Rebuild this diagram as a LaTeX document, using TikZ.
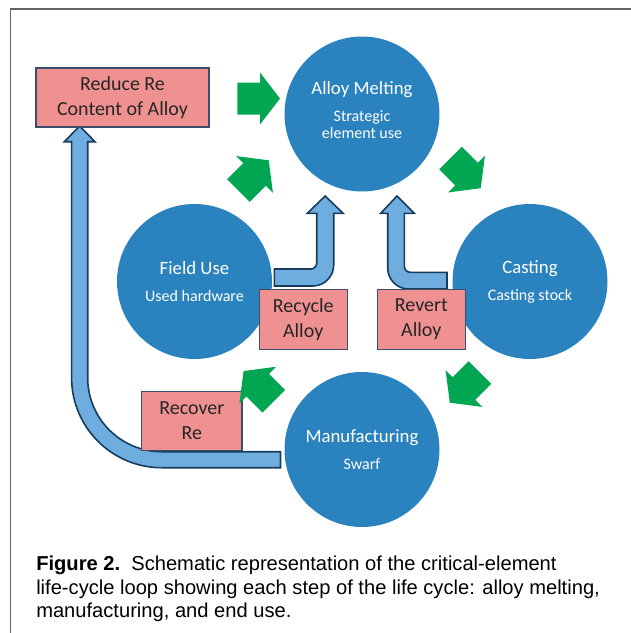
\documentclass[tikz,border=0pt]{standalone}
\usepackage{fontspec}
\setmainfont{Carlito}
\newfontfamily\captionfont{Liberation Sans}
\definecolor{stageblue}{RGB}{42,130,190}
\definecolor{actionpink}{RGB}{239,145,144}
\definecolor{actionedge}{RGB}{62,76,110}
\definecolor{flowblue}{RGB}{111,173,222}
\definecolor{flowedge}{RGB}{22,60,94}
\definecolor{cyclegreen}{RGB}{0,166,81}
\definecolor{framegray}{RGB}{100,100,100}
\newcommand{\subline}{\fontsize{12}{12.75}\selectfont}
\tikzset{cyclearrow/.pic={
  \fill [cyclegreen] (0,-16) -- (22.7,-16) -- (22.7,-26) -- (42.7,0) -- (22.7,26) -- (22.7,16) -- (0,16) -- cycle;
}}

\begin{document}
\begin{tikzpicture}[x=0.75pt,y=-0.75pt]
\tikzstyle{every node}+=[inner sep=0pt]
\tikzstyle{stage}=[circle, fill=stageblue, minimum size=116.25pt, text=white, align=center, font=\fontsize{14.1}{12.75}\selectfont]
\tikzstyle{action}=[rectangle, fill=actionpink, draw=actionedge, line width=0.8pt, align=center, text=black!85, font=\fontsize{15}{18.75}\selectfont]
\tikzstyle{flow}=[fill=flowblue, draw=flowedge, line width=1.2pt, line join=miter]
\useasboundingbox (0,0) rectangle (631,633);
% frame
\draw [framegray, line width=1.1pt] (10.5,633) -- (10.5,9) -- (631,9);
% stages
\node [stage] (melt) at (362,114) {Alloy Melting\\[7.5pt]\subline Strategic\\\subline element use\\[-7pt]};
\node [stage] (field) at (194.5,281.5) {Field Use\\[7.5pt]\subline Used hardware};
\node [stage] (cast) at (530,281.5) {Casting\\[7.5pt]\subline Casting stock};
\node [stage] (manuf) at (362,449.5) {Manufacturing\\[7.5pt]\subline Swarf};
% recovery flows
\draw [flow] (64.4,141.7) -- (79.6,126) -- (95,141.7) -- (87.7,141.7) -- (87.7,377.7)
  .. controls (87.7,418.6) and (120.8,451.7) .. (161.7,451.7) -- (280.5,451.7) -- (280.5,467.7)
  -- (161.7,467.7) .. controls (112,467.7) and (71.6,427.4) .. (71.6,377.7) -- (71.6,141.7) -- cycle;
\draw [flow] (274.3,269) -- (310.7,269) .. controls (314,269) and (316.7,266.3) .. (316.7,263)
  -- (316.7,213.3) -- (307.3,213.3) -- (325.2,196) -- (343.1,213.3) -- (333.7,213.3) -- (333.7,265)
  .. controls (333.7,276.6) and (324.3,286) .. (312.7,286) -- (274.3,286) -- cycle;
\draw [flow] (447,272.3) -- (410.3,272.3) .. controls (407,272.3) and (404.3,269.6) .. (404.3,266.3)
  -- (404.3,213.3) -- (414.3,213.3) -- (397,196) -- (380.7,213.3) -- (387.7,213.3) -- (387.7,268)
  .. controls (387.7,279.6) and (397.1,289) .. (408.7,289) -- (447,289) -- cycle;
% actions
\node [action, minimum width=129.75pt, minimum height=44.25pt] (reduce) at (122.5,97.5) {Reduce Re\\Content of Alloy};
\node [action, minimum width=65.8pt, minimum height=44.8pt] (recycle) at (303.2,319.2) {Recycle\\Alloy};
\node [action, minimum width=66pt, minimum height=44.8pt] (revert) at (421.3,319.2) {Revert\\Alloy};
\node [action, minimum width=75.3pt, minimum height=43.7pt] (recover) at (191.8,420.9) {Recover\\Re};
% cycle arrows
\pic at (237.3,98.5) {cyclearrow};
\pic [rotate=45] at (238.5,190.5) {cyclearrow};
\pic [rotate=-45] at (450.5,158) {cyclearrow};
\pic [rotate=-135] at (480,372.5) {cyclearrow};
\pic [rotate=135] at (273.8,401.2) {cyclearrow};
% caption
\node [anchor=north west, align=left, font=\captionfont\fontsize{15.1}{17.5}\selectfont] (caption) at (36,556)
  {\textbf{Figure 2.}\ \ Schematic representation of the critical-element\\
   life-cycle loop showing each step of the life cycle: alloy melting,\\
   manufacturing, and end use.};
\end{tikzpicture}
\end{document}
